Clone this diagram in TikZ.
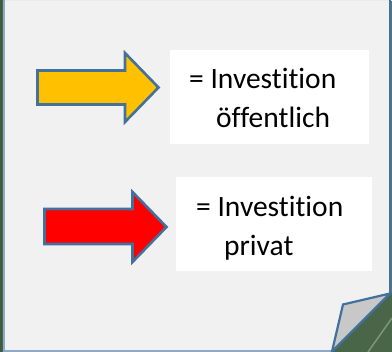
\documentclass[tikz,border=0pt]{standalone}
\usepackage{fontspec}
\setmainfont[Ligatures=NoCommon]{Carlito}
\definecolor{pagebg}{HTML}{F1F1F1}
\definecolor{edge}{HTML}{41719C}
\definecolor{paleedge}{HTML}{8EA9C8}
\definecolor{leaf}{HTML}{4A6648}
\definecolor{leafdark}{HTML}{3F5A3F}
\definecolor{amber}{HTML}{FFC000}
\definecolor{foldgrey}{HTML}{C8C8C8}
\tikzset{
  x=1pt,y=-1pt,
  arrowshape/.style={draw=edge,line width=2.6pt,miter limit=10},
  whitebox/.style={fill=white,draw=none},
  label/.style={anchor=base west,inner sep=0pt,font=\fontsize{29.5}{32}\selectfont,text=black},
}
\begin{document}
\begin{tikzpicture}
\useasboundingbox (0,0) rectangle (392,352);
% backdrop
\fill[leaf] (0,0) rectangle (392,352);
\fill[leafdark] (0,0) rectangle (2,352);
\fill[pagebg] (3,0) -- (391,0) -- (391,293) -- (332,352) -- (3,352) -- cycle;
\fill[white!92!black] (3,0) rectangle (392,1.5);
\draw[paleedge,line width=1.5pt] (3.8,0) -- (3.8,351.2) -- (332,351.2);
\draw[edge,line width=2pt] (390,0) -- (390,293);
% photo streak in the corner
\draw[white!60!leaf,line width=1.5pt,opacity=.5] (392,318) -- (368,352);
% fold
\draw[edge,line width=2.2pt,fill=foldgrey,line join=miter] (332,351.5) -- (343,304.5) -- (390,293.5) -- cycle;
% boxes
\fill[whitebox] (170,50) rectangle (369,144);
\fill[whitebox] (176,177) rectangle (372,271);
% arrows
\draw[arrowshape,fill=amber] (37.5,70.5) -- (125,70.5) -- (125,53) -- (158.5,87.5) -- (125,122) -- (125,104.5) -- (37.5,104.5) -- cycle;
\draw[arrowshape,fill=red] (44.5,209) -- (132.5,209) -- (132.5,192) -- (166.5,227) -- (132.5,262) -- (132.5,244) -- (44.5,244) -- cycle;
% labels
\node[label] (a1) at (189,89) {= Investition};
\node[label] (a2) at (216,128) {öffentlich};
\node[label] (b1) at (196,217) {= Investition};
\node[label] (b2) at (224,256) {privat};
\end{tikzpicture}
\end{document}
